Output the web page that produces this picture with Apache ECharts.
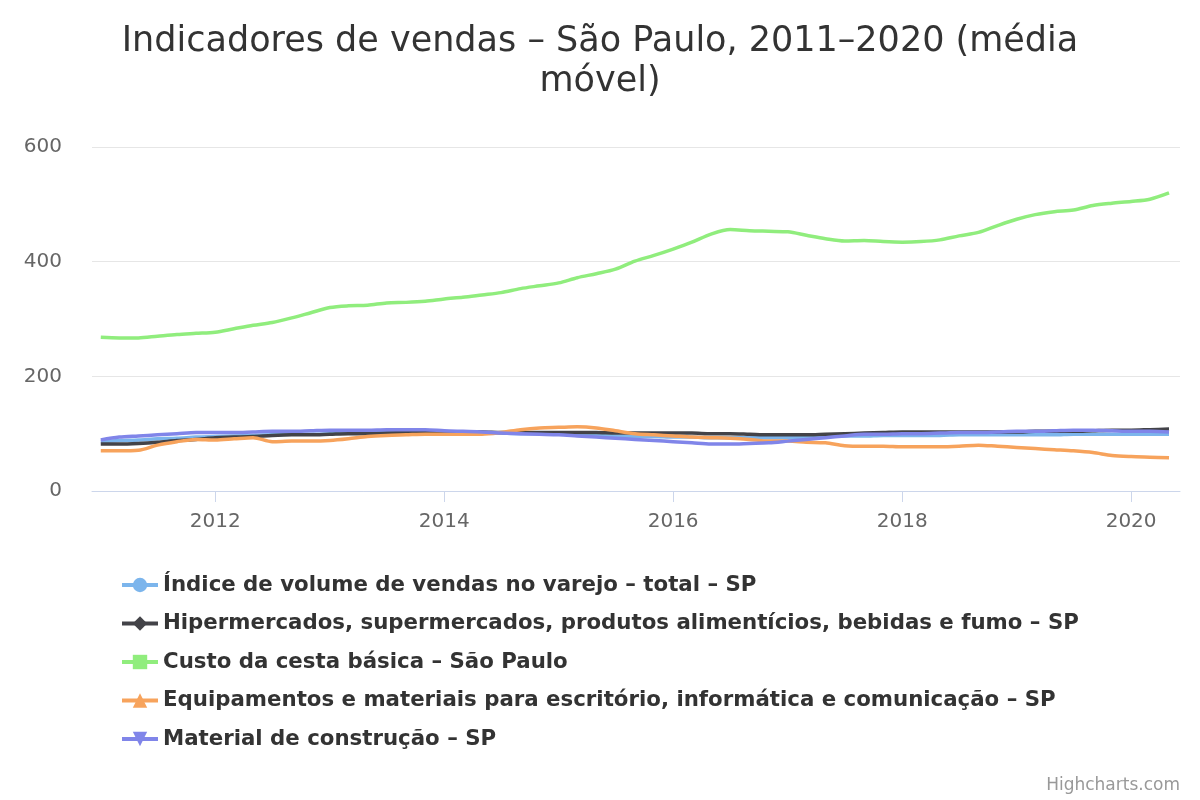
<!DOCTYPE html>
<html>
<head>
<meta charset="utf-8">
<script src="https://cdn.jsdelivr.net/npm/echarts@6/dist/echarts.min.js"></script>
<style>html,body{margin:0;padding:0;background:#fff}#c{width:1200px;height:800px}</style>
</head>
<body>
<div id="c"></div>
<script>
const titleText = 'Indicadores de vendas – São Paulo, 2011–2020 (média\nmóvel)';
const seriesNames = [
  'Índice de volume de vendas no varejo – total – SP',
  'Hipermercados, supermercados, produtos alimentícios, bebidas e fumo – SP',
  'Custo da cesta básica – São Paulo',
  'Equipamentos e materiais para escritório, informática e comunicação – SP',
  'Material de construção – SP'
];
const dates = [
  '2011-01','2011-03','2011-05','2011-07','2011-09','2011-11',
  '2012-01','2012-03','2012-05','2012-07','2012-09','2012-11',
  '2013-01','2013-03','2013-05','2013-07','2013-09','2013-11',
  '2014-01','2014-03','2014-05','2014-07','2014-09','2014-11',
  '2015-01','2015-03','2015-05','2015-07','2015-09','2015-11',
  '2016-01','2016-03','2016-05','2016-07','2016-09','2016-11',
  '2017-01','2017-03','2017-05','2017-07','2017-09','2017-11',
  '2018-01','2018-03','2018-05','2018-07','2018-09','2018-11',
  '2019-01','2019-03','2019-05','2019-07','2019-09','2019-11',
  '2020-01','2020-03','2020-05'
];
const varejoTotal = [
  86, 88, 89, 91, 92, 94,
  95, 96, 97, 98, 99, 99,
  100, 101, 101, 102, 102, 103,
  103, 102, 102, 101, 100, 100,
  99, 98, 97, 96, 95, 95,
  94, 94, 93, 93, 93, 93,
  93, 94, 95, 96, 96, 97,
  97, 97, 97, 98, 98, 98,
  98, 98, 98, 99, 99, 99,
  99, 99, 99
];
const hipermercados = [
  82, 82, 83, 85, 88, 90,
  93, 94, 95, 97, 98, 98,
  99, 100, 100, 101, 102, 103,
  103, 103, 103, 102, 102, 102,
  102, 102, 102, 101, 101, 101,
  101, 101, 100, 100, 99, 98,
  98, 98, 99, 100, 101, 102,
  103, 103, 103, 103, 103, 103,
  103, 104, 104, 104, 105, 106,
  106, 107, 108
];
const cestaBasica = [
  268, 267, 267, 270, 273, 275,
  277, 283, 289, 294, 302, 311,
  320, 323, 324, 328, 329, 331,
  335, 338, 342, 346, 353, 358,
  363, 372, 379, 387, 401, 411,
  422, 434, 448, 456, 454, 453,
  452, 446, 440, 436, 437, 435,
  434, 435, 438, 445, 451, 463,
  474, 482, 487, 490, 498, 502,
  505, 509, 520
];
const equipamentos = [
  70, 70, 71, 80, 86, 90,
  89, 91, 93, 86, 87, 87,
  88, 91, 95, 97, 98, 99,
  99, 99, 99, 102, 107, 110,
  111, 112, 110, 105, 100, 98,
  96, 94, 93, 92, 90, 87,
  87, 85, 84, 79, 78, 78,
  77, 77, 77, 78, 80, 78,
  76, 74, 72, 70, 67, 62,
  60, 59, 58
];
const construcao = [
  89, 94, 96, 98, 100, 102,
  102, 102, 103, 104, 104, 105,
  106, 106, 106, 107, 107, 107,
  105, 104, 103, 101, 100, 99,
  98, 96, 94, 92, 90, 88,
  86, 84, 82, 82, 83, 84,
  87, 90, 93, 96, 99, 99,
  100, 100, 101, 102, 102, 103,
  104, 104, 105, 106, 106, 105,
  104, 104, 103
];
const xTickYears = [2012, 2014, 2016, 2018, 2020];

const colors = ['#7cb5ec', '#434348', '#90ed7d', '#f7a35c', '#8085e9'];
const symbols = ['circle', 'diamond', 'rect', 'triangle', 'path://M0,0L10,0L5,10Z'];
const allValues = [varejoTotal, hipermercados, cestaBasica, equipamentos, construcao];

function toTs(s) { const p = s.split('-'); return Date.UTC(+p[0], +p[1] - 1, 1); }
const tickTs = xTickYears.map(y => Date.UTC(y, 0, 1));

const chart = echarts.init(document.getElementById('c'), null, { renderer: 'canvas' });
chart.setOption({
  animation: false,
  color: colors,
  textStyle: { fontFamily: 'DejaVu Sans' },
  title: {
    text: titleText,
    left: 'center',
    top: 17,
    textStyle: { fontFamily: 'DejaVu Sans', fontSize: 35, fontWeight: 'normal', color: '#333333', lineHeight: 40 }
  },
  grid: { left: 92, right: 20, top: 147, bottom: 309, containLabel: false },
  xAxis: {
    type: 'value',
    min: Date.UTC(2010, 11, 4),
    max: Date.UTC(2020, 5, 5),
    axisLine: { show: true, lineStyle: { color: '#ccd6eb', width: 1 } },
    axisTick: { show: true, length: 11, lineStyle: { color: '#ccd6eb' }, customValues: tickTs },
    axisLabel: {
      customValues: tickTs,
      formatter: v => String(new Date(v).getUTCFullYear()),
      color: '#666666', fontSize: 20, margin: 21, fontFamily: 'DejaVu Sans'
    },
    splitLine: { show: false }
  },
  yAxis: {
    type: 'value',
    min: 0, max: 600, interval: 200,
    axisLine: { show: false },
    axisTick: { show: false },
    axisLabel: { color: '#666666', fontSize: 20, margin: 30, fontFamily: 'DejaVu Sans' },
    splitLine: { lineStyle: { color: '#e6e6e6', width: 1 } }
  },
  legend: {
    orient: 'vertical',
    left: 115,
    top: 568,
    itemWidth: 36,
    itemHeight: 18,
    itemGap: 14.5,
    lineStyle: { width: 4 },
    textStyle: { fontFamily: 'DejaVu Sans', fontSize: 21.3, fontWeight: 'bold', color: '#333333', lineHeight: 24 },
    data: seriesNames
  },
  graphic: [{
    type: 'text',
    right: 20,
    bottom: 6,
    style: { text: 'Highcharts.com', fill: '#999999', font: '17px "DejaVu Sans"' }
  }],
  series: seriesNames.map((n, i) => ({
    name: n,
    type: 'line',
    symbol: symbols[i],
    symbolSize: 14,
    showSymbol: false,
    smooth: 0.3,
    lineStyle: { width: 3.5, color: colors[i] },
    itemStyle: { color: colors[i] },
    z: 2 + i,
    data: dates.map((d, k) => [toTs(d), allValues[i][k]])
  }))
});
</script>
</body>
</html>
